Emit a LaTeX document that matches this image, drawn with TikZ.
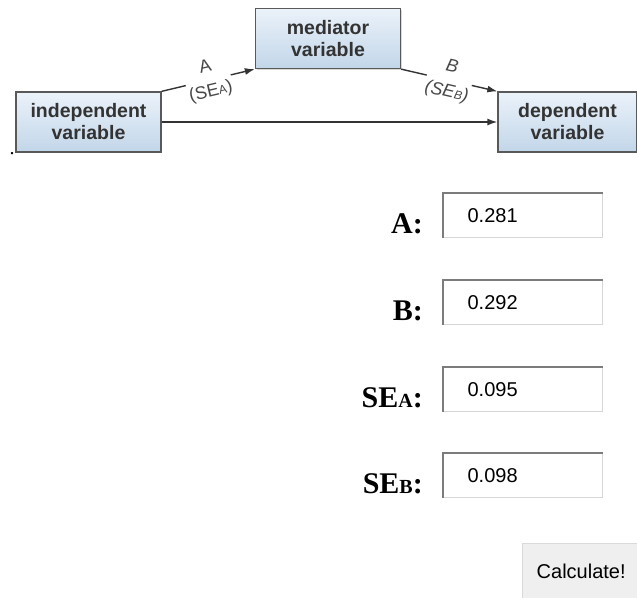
\documentclass[tikz,border=0pt]{standalone}
\usepackage{fontspec}
\setmainfont{Liberation Serif}
\newfontfamily\arialfont{Liberation Sans}
\usetikzlibrary{arrows.meta,shadows}
\definecolor{boxtop}{HTML}{EBF2FA}
\definecolor{boxbot}{HTML}{C2D6E9}
\definecolor{fielddark}{HTML}{7C7C7C}
\definecolor{fieldlight}{HTML}{D6D6D6}
\definecolor{btnfill}{HTML}{EFEFEF}
\definecolor{btnline}{HTML}{DADADA}
\newcommand{\smallsub}[2][12]{{\fontsize{#1}{#1}\selectfont #2}}

\begin{document}
\begin{tikzpicture}[x=1pt,y=-1pt,>={Latex[length=10pt,width=7pt]},
  var/.style={draw=black!65,line width=1.3pt,top color=boxtop,bottom color=boxbot,
    minimum width=145pt,minimum height=60pt,inner sep=0pt,align=center,
    font=\arialfont\bfseries\fontsize{19.5}{22}\selectfont,text=black!80,
    drop shadow={shadow xshift=1.2pt,shadow yshift=-1.2pt,opacity=0.3}},
  lab/.style={sloped,fill=white,inner sep=1pt,align=center,text=black!72,
    font=\arialfont\fontsize{18}{25}\selectfont},
  lbl/.style={anchor=base east,inner sep=0pt,font=\bfseries\fontsize{30}{30}\selectfont},
  field/.style={anchor=north west,draw=fieldlight,line width=1.2pt,minimum height=44pt,
    text width=111pt,inner xsep=24pt,inner ysep=0pt,align=left,
    font=\arialfont\fontsize{20}{20}\selectfont},
  inset/.style={draw=fielddark,line width=2pt},
  btn/.style={anchor=north west,fill=btnfill,draw=btnline,minimum width=118pt,
    minimum height=57pt,font=\arialfont\fontsize{20}{20}\selectfont}]
\useasboundingbox (0,0) rectangle (637,597);

% path diagram
\node[var] (ind) at (88.5,122) {independent\\variable};
\node[var] (med) at (328,38.5) {mediator\\variable};
\node[var,minimum width=139pt] (dep) at (567.5,122) {dependent\\variable};
\node[anchor=base,inner sep=0pt,font=\fontsize{20}{20}\selectfont] (dot) at (12,154) {.};

\path[->,line width=1.4pt,color=black!80]
  (ind.north east) edge node[lab] {A\\(SE\smallsub{A})} (med.south west)
  (med.south east) edge node[lab,font=\arialfont\itshape\fontsize{18}{25}\selectfont] {B\\(SE\smallsub{B})} (dep.north west)
  (ind) edge (dep);

% input form
\node[field] (fA) at (443,193) {0.281};
\node[field] (fB) at (443,280) {0.292};
\node[field] (fSEA) at (443,367) {0.095};
\node[field] (fSEB) at (443,453) {0.098};
\draw[inset] (fA.south west) |- (fA.north east);
\draw[inset] (fB.south west) |- (fB.north east);
\draw[inset] (fSEA.south west) |- (fSEA.north east);
\draw[inset] (fSEB.south west) |- (fSEB.north east);

\node[lbl] (lA) at ([xshift=-20pt,yshift=5pt]fA.south west) {A:};
\node[lbl] (lB) at ([xshift=-20pt,yshift=5pt]fB.south west) {B:};
\node[lbl] (lSEA) at ([xshift=-20pt,yshift=5pt]fSEA.south west) {SE\smallsub[20]{A}:};
\node[lbl] (lSEB) at ([xshift=-20pt,yshift=5pt]fSEB.south west) {SE\smallsub[20]{B}:};

\node[btn] (calc) at (522,543) {Calculate!};
\end{tikzpicture}
\end{document}
